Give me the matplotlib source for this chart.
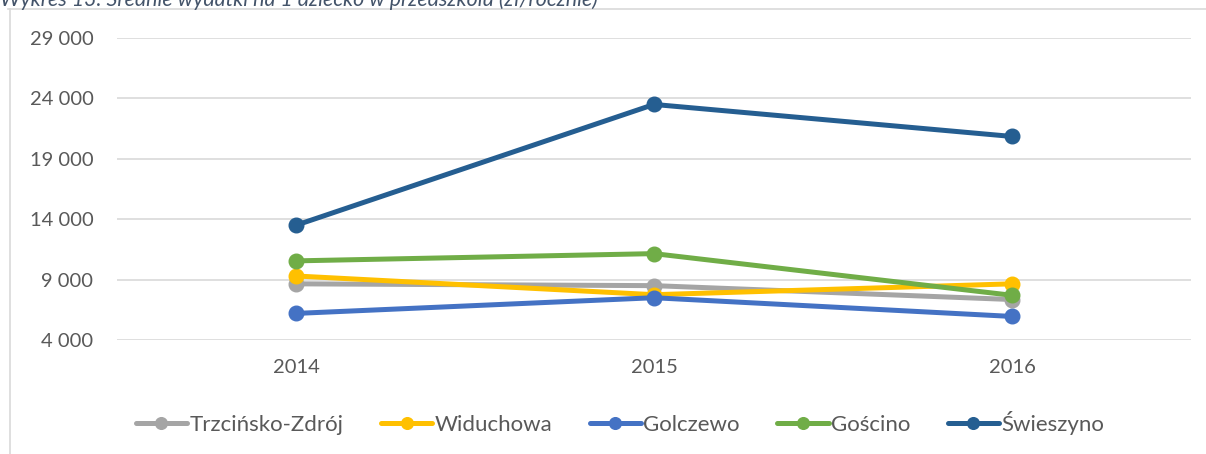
import matplotlib.pyplot as plt
from matplotlib.lines import Line2D
from matplotlib.ticker import FuncFormatter

# dane z wykresu (zl / rocznie)
lata = ["2014", "2015", "2016"]
gminy = ["Trzcińsko-Zdrój", "Widuchowa", "Golczewo", "Gościno", "Świeszyno"]
trzcinsko = [8650, 8500, 7350]
widuchowa = [9300, 7750, 8650]
golczewo = [6200, 7500, 5950]
goscino = [10550, 11150, 7700]
swieszyno = [13500, 23500, 20850]
kolory = ["#A5A5A5", "#FFC000", "#4472C4", "#70AD47", "#255E91"]

plt.rcParams['font.family'] = ['Lato', 'DejaVu Sans']

fig = plt.figure(figsize=(12.06, 4.54), dpi=100)
W, H = 1206, 454
ax = fig.add_axes([117 / W, 1 - 340 / H, (1191 - 117) / W, (340 - 38) / H])

serie = [trzcinsko, widuchowa, golczewo, goscino, swieszyno]
x = range(len(lata))
for nazwa, wart, kol in zip(gminy, serie, kolory):
    ax.plot(x, wart, color=kol, lw=3.6, marker='o', ms=10.5, label=nazwa,
            solid_capstyle='round')

ax.set_xlim(-0.5, 2.5)
ax.set_ylim(4000, 29000)
ax.set_yticks(range(4000, 29001, 5000))
ax.yaxis.set_major_formatter(FuncFormatter(lambda v, p: f"{int(v):,}".replace(",", " ")))
ax.set_xticks(list(x))
ax.set_xticklabels(lata)
ax.grid(axis='y', color='#D9D9D9', lw=1.2)
ax.set_axisbelow(True)
for s in ax.spines.values():
    s.set_visible(False)
ax.tick_params(axis='both', length=0, labelsize=14.5, colors='#595959')
ax.tick_params(axis='y', pad=17)
ax.tick_params(axis='x', pad=14)

leg = fig.legend(loc='center', bbox_to_anchor=(620 / W, 1 - 423 / H), ncol=5,
                 frameon=False, fontsize=16, handlelength=2.3, handletextpad=0.1,
                 columnspacing=1.7, markerscale=0.8)
for t in leg.get_texts():
    t.set_color('#595959')

# ramka wykresu
fig.add_artist(Line2D([8 / W, 1], [1 - 9 / H, 1 - 9 / H], color='#D9D9D9', lw=1.2))
fig.add_artist(Line2D([10 / W, 10 / W], [0, 1 - 9 / H], color='#D9D9D9', lw=1.2))

# podpis uciety u gory
fig.text(0.0, 1 + 2 / H, "Wykres 13. Średnie wydatki na 1 dziecko w przedszkolu (zł/rocznie)",
         ha='left', va='center', fontsize=15.4, style='italic', color='#44546A')

fig.savefig("out.png", dpi=100)
